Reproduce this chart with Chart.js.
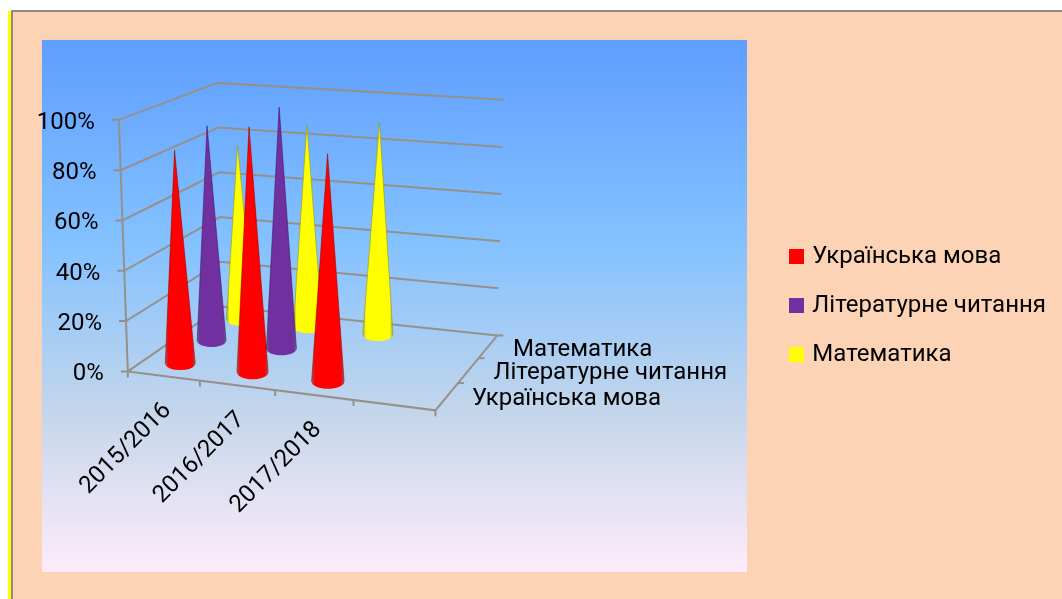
<!DOCTYPE html>
<html lang="uk">
<head>
<meta charset="utf-8">
<script src="https://cdn.jsdelivr.net/npm/chart.js@4"></script>
<style>
html,body{margin:0;padding:0;background:#fff;}
#page{position:relative;width:1062px;height:599px;overflow:hidden;background:#fff;}
#sheet{position:absolute;left:11px;top:10px;right:0;bottom:0;background:#fdd3b5;border-left:2px solid #8f8a86;border-top:2px solid #8f8a86;}
#edge{position:absolute;left:8px;top:11px;width:3px;bottom:0;background:#ffff00;}
canvas{position:absolute;left:0;top:0;}
</style>
</head>
<body>
<div id="page">
<div id="sheet"></div><div id="edge"></div>
<canvas id="chart" width="1062" height="599"></canvas>
</div>
<script>
const categories = ['2015/2016','2016/2017','2017/2018',''];
const seriesNames = ['Українська мова','Літературне читання','Математика'];
const ukrainian = [86,98,90,null];
const reading = [90,100,null,null];
const maths = [76,87,90,null];
const valueTicks = [0,20,40,60,80,100];

const seriesValues = [ukrainian,reading,maths];
const seriesColors = ['#ff0000','#7030a0','#ffff00'];
const seriesEdges = ['rgba(150,0,0,.55)','rgba(60,20,95,.55)','rgba(150,150,0,.55)'];
const gridColor = '#96908b';
const labelFont = '24px Roboto';

// 3D box as seen in the picture: floor corners front-left, front-right, back-right, back-left
const floorQuad = [[127,372],[435,411],[497,336],[221,307]];
// height of the 100% level above those corners, and the slight outward lean of the uprights
const cornerHeights = [252,262,236,224];
const leanCentre = 335, leanRate = 0.000172;

function quadMap(q){
  const [p0,p1,p2,p3] = q;
  const dx1=p1[0]-p2[0], dx2=p3[0]-p2[0], sx=p0[0]-p1[0]+p2[0]-p3[0];
  const dy1=p1[1]-p2[1], dy2=p3[1]-p2[1], sy=p0[1]-p1[1]+p2[1]-p3[1];
  const den=dx1*dy2-dx2*dy1;
  const g=(sx*dy2-dx2*sy)/den, h=(dx1*sy-sx*dy1)/den;
  const a=p1[0]-p0[0]+g*p1[0], b=p3[0]-p0[0]+h*p3[0];
  const d=p1[1]-p0[1]+g*p1[1], e=p3[1]-p0[1]+h*p3[1];
  return (u,v)=>{
    const w=g*u+h*v+1;
    return [(a*u+b*v+p0[0])/w,(d*u+e*v+p0[1])/w];
  };
}
const floorAt = quadMap(floorQuad);

// u: along the categories, v: into the depth, pct: value axis
function project(u,v,pct){
  const f=floorAt(u,v), k=pct/100;
  const [h0,h1,h2,h3]=cornerHeights;
  const full=(h0*(1-u)+h1*u)*(1-v)+(h3*(1-u)+h2*u)*v;
  return {x:f[0]+(f[0]-leanCentre)*leanRate*full*k, y:f[1]-full*k};
}
const nCat = categories.length, nSer = seriesNames.length;

// one cone = shaded body plus a thin darker edge along both sides
function coneDatasets(s,c,value){
  const u=(c+.5)/nCat, v=(s+.5)/nSer;
  const base=project(u,v,0), tip=project(u,v,value);
  const a=project(u-.5/nCat,v,0), b=project(u+.5/nCat,v,0);
  const slot=Math.hypot(b.x-a.x,b.y-a.y);
  const rx=slot*.21, ry=slot*.09;
  const pts=[];
  for(let i=0;i<=20;i++){
    const t=Math.PI*i/20;
    pts.push({x:base.x-rx*Math.cos(t), y:base.y+ry*Math.sin(t)});
  }
  const edge={
    label:seriesNames[s], data:[pts[0],tip,pts[20]], showLine:true, tension:0, pointRadius:0, fill:false, clip:false,
    borderWidth:1, borderColor:seriesEdges[s]
  };
  const body={
    label:seriesNames[s], data:pts.concat([tip,pts[0]]), showLine:true, tension:0, pointRadius:0, fill:'shape', clip:false,
    borderWidth:0, borderColor:'rgba(0,0,0,0)',
    backgroundColor:ctx=>{
      const xs=ctx.chart.scales.x;
      if(!xs||!ctx.chart.chartArea) return seriesColors[s];
      const x0=xs.getPixelForValue(base.x-rx), x1=xs.getPixelForValue(base.x+rx);
      if(!isFinite(x0)||!isFinite(x1)) return seriesColors[s];
      const gr=ctx.chart.ctx.createLinearGradient(x0,0,x1,0);
      gr.addColorStop(0,seriesEdges[s]);
      gr.addColorStop(.1,seriesColors[s]);
      gr.addColorStop(.9,seriesColors[s]);
      gr.addColorStop(1,seriesEdges[s]);
      return gr;
    }
  };
  return [edge,body];
}
function lineDataset(pts){
  return {label:'', data:pts, showLine:true, tension:0, pointRadius:0, fill:false, clip:false,
    borderColor:gridColor, borderWidth:2};
}

const datasets = [];
// first dataset is painted last, so the front row goes first
seriesValues.forEach((vals,s)=>vals.forEach((val,c)=>{
  if(val!==null) datasets.push(...coneDatasets(s,c,val));
}));
valueTicks.forEach(t=>{
  const fl=project(0,0,t), bl=project(0,1,t), br=project(1,1,t);
  datasets.push(lineDataset([{x:fl.x-7,y:fl.y},fl,bl,br]));
});
datasets.push(lineDataset([project(0,0,0),project(0,0,100)]));
datasets.push(lineDataset([project(0,0,0),project(1,0,0),project(1,1,0),{x:project(1,1,0).x+6,y:project(1,1,0).y}]));
for(let c=0;c<=nCat;c++){
  const p=project(c/nCat,0,0);
  datasets.push(lineDataset([p,{x:p.x,y:p.y+6}]));
}
for(let s=1;s<nSer;s++){
  const p=project(1,s/nSer,0);
  datasets.push(lineDataset([p,{x:p.x+6,y:p.y}]));
}

const backdrop = {
  id:'backdrop',
  beforeDatasetsDraw(chart){
    const {ctx,scales:{x,y}}=chart;
    const l=x.getPixelForValue(41), r=x.getPixelForValue(747), t=y.getPixelForValue(40), b=y.getPixelForValue(573);
    const gr=ctx.createLinearGradient(0,t,0,b);
    gr.addColorStop(0,'#5e9eff');
    gr.addColorStop(.39,'#85c2ff');
    gr.addColorStop(.7,'#c4d6eb');
    gr.addColorStop(1,'#ffebfa');
    ctx.save();
    ctx.fillStyle=gr;
    ctx.fillRect(l,t,r-l,b-t);
    ctx.restore();
  }
};

const axisText = {
  id:'axisText',
  afterDatasetsDraw(chart){
    const {ctx,scales:{x,y}}=chart;
    ctx.save();
    ctx.font=labelFont;
    ctx.fillStyle='#000';
    ctx.textBaseline='middle';
    ctx.textAlign='right';
    valueTicks.forEach(t=>{
      const p=project(0,0,t);
      ctx.fillText(t+'%',x.getPixelForValue(p.x-24),y.getPixelForValue(p.y+3));
    });
    ctx.textAlign='left';
    seriesNames.forEach((n,s)=>{
      const p=project(1,(s+.5)/nSer,0);
      ctx.fillText(n,x.getPixelForValue(p.x+25),y.getPixelForValue(p.y+3));
    });
    ctx.textAlign='right';
    categories.forEach((n,c)=>{
      const p=project((c+.5)/nCat,0,0);
      ctx.save();
      ctx.translate(x.getPixelForValue(p.x+4),y.getPixelForValue(p.y+31));
      ctx.rotate(-Math.PI/4);
      ctx.fillText(n,0,0);
      ctx.restore();
    });
    ctx.restore();
  }
};

// legend key: square swatch, drawn wider than the slot so the text sits close like the original
function swatch(color){
  const c=document.createElement('canvas');
  c.width=15; c.height=15;
  const g=c.getContext('2d');
  g.fillStyle=color;
  g.fillRect(0,0,15,15);
  return c;
}

const chart = new Chart(document.getElementById('chart').getContext('2d'),{
  type:'scatter',
  data:{datasets},
  options:{
    responsive:false, animation:false, events:[],
    layout:{padding:{top:12,right:6}},
    scales:{
      x:{type:'linear',display:false,min:0,max:760},
      y:{type:'linear',display:false,reverse:true,min:12,max:599}
    },
    plugins:{
      tooltip:{enabled:false},
      legend:{
        position:'right',
        labels:{
          font:{family:'Roboto',size:24},color:'#000',boxWidth:7,boxHeight:15,padding:25,usePointStyle:true,pointStyleWidth:7,
          generateLabels:()=>seriesNames.map((n,i)=>({text:n,fillStyle:seriesColors[i],strokeStyle:seriesColors[i],lineWidth:0,datasetIndex:i,pointStyle:swatch(seriesColors[i])}))
        }
      }
    }
  },
  plugins:[backdrop,axisText]
});
// plot scale runs in canvas units, so match it to the room the legend left
chart.options.scales.x.max = chart.chartArea.right;
chart.update();
</script>
</body>
</html>
